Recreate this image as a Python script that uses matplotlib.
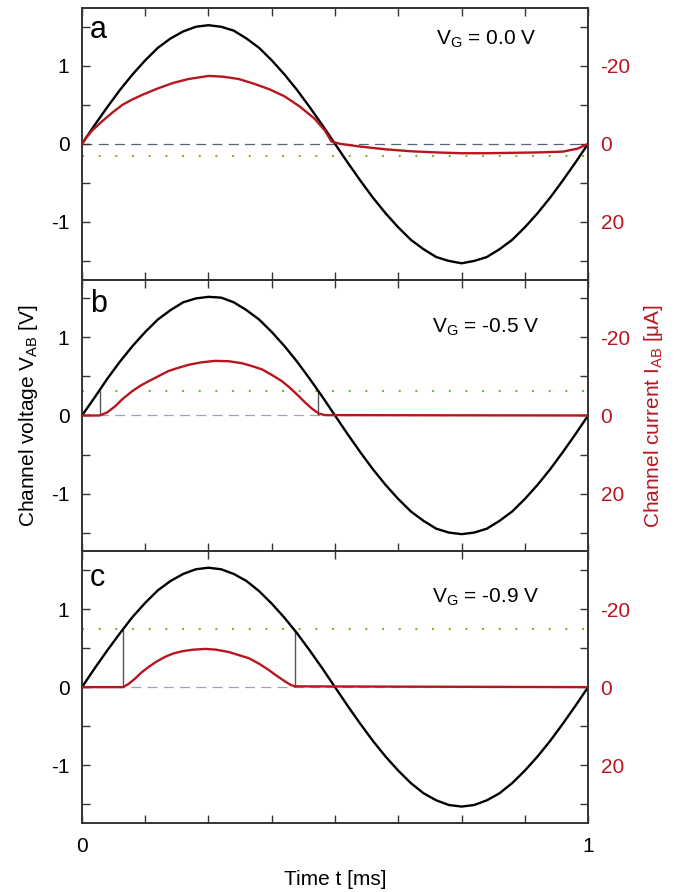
import matplotlib
matplotlib.use("Agg")
import matplotlib.pyplot as plt
from matplotlib.ticker import FixedLocator, NullFormatter

plt.rcParams['font.family'] = ['Liberation Sans', 'DejaVu Sans']
plt.rcParams['mathtext.default'] = 'regular'
plt.rcParams['axes.unicode_minus'] = False

# sampling instants of the voltage traces [ms]
t_v = [0.0, 0.025, 0.05, 0.075, 0.1, 0.125, 0.15, 0.175, 0.2, 0.225,
       0.25, 0.275, 0.3, 0.325, 0.35, 0.375, 0.4, 0.425, 0.45, 0.475,
       0.5, 0.525, 0.55, 0.575, 0.6, 0.625, 0.65, 0.675, 0.7, 0.725,
       0.75, 0.775, 0.8, 0.825, 0.85, 0.875, 0.9, 0.925, 0.95, 0.975, 1.0]

# channel voltage V_AB [V], one trace per panel
v_a = [0.0, 0.24, 0.47, 0.69, 0.89, 1.07, 1.23, 1.35, 1.44, 1.50,
       1.52, 1.50, 1.45, 1.35, 1.23, 1.07, 0.89, 0.69, 0.47, 0.24,
       0.0, -0.24, -0.47, -0.69, -0.89, -1.07, -1.23, -1.35, -1.45, -1.50,
       -1.53, -1.50, -1.45, -1.35, -1.23, -1.07, -0.89, -0.69, -0.47, -0.24, 0.0]
v_b = [0.0, 0.23, 0.47, 0.69, 0.89, 1.07, 1.23, 1.35, 1.45, 1.50,
       1.52, 1.51, 1.45, 1.35, 1.23, 1.07, 0.89, 0.69, 0.47, 0.24,
       0.0, -0.24, -0.47, -0.69, -0.89, -1.07, -1.23, -1.35, -1.45, -1.50,
       -1.52, -1.50, -1.45, -1.35, -1.23, -1.07, -0.89, -0.69, -0.47, -0.24, 0.0]
v_c = [0.0, 0.24, 0.47, 0.69, 0.90, 1.08, 1.24, 1.36, 1.45, 1.51,
       1.53, 1.51, 1.45, 1.36, 1.23, 1.07, 0.89, 0.69, 0.47, 0.24,
       0.0, -0.24, -0.47, -0.69, -0.89, -1.07, -1.23, -1.36, -1.45, -1.51,
       -1.53, -1.51, -1.45, -1.36, -1.23, -1.07, -0.89, -0.69, -0.47, -0.24, 0.0]

# channel current I_AB [uA]
t_ia = [0.0, 0.01, 0.02, 0.04, 0.06, 0.08, 0.10, 0.12, 0.15, 0.18, 0.21,
        0.25, 0.28, 0.31, 0.34, 0.37, 0.40, 0.43, 0.46, 0.48, 0.493, 0.51,
        0.55, 0.60, 0.65, 0.70, 0.75, 0.80, 0.85, 0.90, 0.95, 0.98, 1.0]
i_a = [0.0, -1.8, -3.4, -5.8, -8.0, -10.0, -11.4, -12.6, -14.2, -15.6, -16.6,
       -17.4, -17.2, -16.6, -15.4, -14.0, -12.2, -9.6, -6.4, -3.4, -0.6, 0.0,
       0.7, 1.4, 1.9, 2.2, 2.4, 2.4, 2.3, 2.2, 2.0, 1.2, 0.0]

t_ib = [0.0, 0.035, 0.05, 0.066, 0.08, 0.099, 0.115, 0.132, 0.15, 0.171,
        0.19, 0.211, 0.235, 0.263, 0.29, 0.316, 0.335, 0.356, 0.375, 0.395,
        0.41, 0.428, 0.442, 0.455, 0.468, 0.48, 1.0]
i_b = [0.0, 0.0, -0.8, -2.4, -4.2, -6.2, -7.6, -8.8, -10.0, -11.4,
       -12.2, -13.0, -13.6, -14.0, -13.9, -13.4, -12.7, -11.8, -10.4, -8.8,
       -7.2, -5.0, -3.2, -1.7, -0.5, -0.1, 0.0]

t_ic = [0.0, 0.081, 0.092, 0.105, 0.118, 0.132, 0.148, 0.165, 0.18, 0.198,
        0.22, 0.244, 0.265, 0.29, 0.31, 0.33, 0.35, 0.369, 0.386, 0.402,
        0.412, 0.421, 1.0]
i_c = [0.0, 0.0, -0.8, -2.2, -3.8, -5.2, -6.6, -7.8, -8.6, -9.2,
       -9.6, -9.8, -9.6, -9.0, -8.2, -7.4, -6.0, -4.4, -2.8, -1.4,
       -0.6, -0.2, 0.0]

# threshold levels [V] and switching instants [ms]
thresholds = [-0.16, 0.31, 0.74]
switch_times = [[], [0.035, 0.467], [0.081, 0.421]]

labels = ['a', 'b', 'c']
gate_texts = ['$V_G$ = 0.0 V', '$V_G$ = -0.5 V', '$V_G$ = -0.9 V']

volts = [v_a, v_b, v_c]
curr_t = [t_ia, t_ib, t_ic]
currs = [i_a, i_b, i_c]

red = '#b8161f'
spine_col = '#333333'
zero_cols = ['#54657a', '#9aa6b6', '#9aa6b6']
ylim = 1.74
fs = 15

fig, axes = plt.subplots(3, 1, figsize=(6.83, 8.92), dpi=100, sharex=True)
fig.subplots_adjust(left=0.12, right=0.861, top=0.991, bottom=0.0774, hspace=0)

label_y = [0.92, 0.91, 0.90]
gate_pos = [(0.70, 0.885), (0.692, 0.826), (0.692, 0.83)]

for k, ax in enumerate(axes):
    ax.axhline(0, color=zero_cols[k], lw=0.9, ls=(0, (8, 5)), zorder=1)
    ax.axhline(thresholds[k], color='#74c02c', lw=1.5, ls=(0, (1, 7)), zorder=1)
    if switch_times[k]:
        ax.vlines(switch_times[k], 0, thresholds[k], color='#555555', lw=1.0, zorder=2)
    ax.plot(t_v, volts[k], color='black', lw=1.7, zorder=3)
    ax.set_xlim(0, 1)
    ax.set_ylim(-ylim, ylim)
    ax.yaxis.set_major_locator(FixedLocator([-1, 0, 1]))
    ax.yaxis.set_minor_locator(FixedLocator([-1.5, -0.5, 0.5, 1.5]))
    ax.xaxis.set_major_locator(FixedLocator([0, 0.25, 0.5, 0.75, 1]))
    ax.tick_params(which='both', direction='in', length=6, width=1.0,
                   color=spine_col, top=True, right=False, labelsize=fs, pad=9)
    for s in ax.spines.values():
        s.set_color(spine_col)
        s.set_linewidth(1.2)
    ax.text(0.016, label_y[k], labels[k], transform=ax.transAxes,
            fontsize=22, ha='left', va='center')
    ax.text(gate_pos[k][0], gate_pos[k][1], gate_texts[k], transform=ax.transAxes,
            fontsize=fs, ha='left', va='center')

    ax2 = ax.twinx()
    ax2.plot(curr_t[k], currs[k], color=red, lw=1.7, zorder=4)
    ax2.set_ylim(ylim * 20, -ylim * 20)
    ax2.yaxis.set_major_locator(FixedLocator([-20, 0, 20]))
    ax2.yaxis.set_minor_locator(FixedLocator([-30, -10, 10, 30]))
    ax2.tick_params(which='both', direction='in', length=6, width=1.0,
                    color=spine_col, labelcolor=red, labelsize=fs, pad=9)
    for s in ax2.spines.values():
        s.set_color(spine_col)
        s.set_linewidth(1.2)
    if k == 1:
        ax2.set_ylabel('Channel current $I_{AB}$ [μA]', color=red, fontsize=fs,
                       labelpad=8)

axes[1].set_ylabel('Channel voltage $V_{AB}$ [V]', fontsize=fs, labelpad=8)

# x tick labels only at 0 and 1, minor ticks on the bottom axis
axes[2].xaxis.set_major_formatter(plt.FixedFormatter(['0', '', '', '', '1']))
axes[2].xaxis.set_minor_locator(FixedLocator([0.125, 0.375, 0.625, 0.875]))
axes[2].tick_params(axis='x', which='minor', top=False, bottom=True)
axes[2].tick_params(axis='x', which='major', pad=10)
axes[2].set_xlabel('Time t [ms]', fontsize=fs, labelpad=10)
for ax in axes[:2]:
    ax.xaxis.set_minor_formatter(NullFormatter())

fig.savefig('out.png', dpi=100)
